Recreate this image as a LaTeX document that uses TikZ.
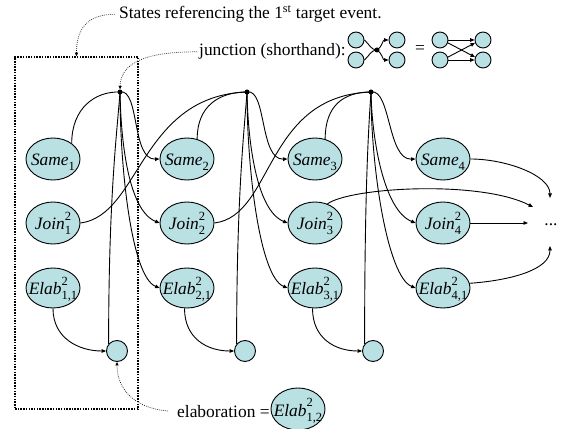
\documentclass[tikz,border=0pt]{standalone}
\usepackage{fontspec}
\setmainfont{Liberation Serif}
\usetikzlibrary{arrows.meta,shapes.geometric}
\definecolor{cellfill}{RGB}{185,224,227}
% italic state name with stacked superscript and subscript
\newcommand\scr[1]{{\fontsize{12.5}{12.5}\selectfont #1}}
\newcommand\stlab[3]{\textit{#1}\rlap{\raisebox{9pt}{\scr{#2}}}\raisebox{-5pt}{\scr{#3}}}
% label set with its baseline a fixed distance below the node centre
\newcommand\inlab[1]{\raisebox{-7pt}[0pt][0pt]{\makebox[0pt]{#1}}}
\tikzset{
  big/.style={font=\fontsize{17.4}{20}\selectfont},
  stnode/.style={ellipse, draw, fill=cellfill, line width=0.9pt, minimum width=54pt, minimum height=42pt, inner sep=0pt, big},
  elnode/.style={stnode, minimum height=40pt},
  endcirc/.style={circle, draw, fill=cellfill, line width=0.9pt, minimum size=21pt, inner sep=0pt},
  mini/.style={circle, draw, fill=cellfill, line width=0.9pt, minimum size=16pt, inner sep=0pt},
  jdot/.style={circle, fill=black, minimum size=5pt, inner sep=0pt},
  conn/.style={line width=0.9pt},
  arw/.style={conn, -{Triangle[length=4.5pt,width=3.6pt]}},
  note/.style={line width=0.7pt, dash pattern=on 0.7pt off 1.3pt, -{Triangle[length=3.5pt,width=3pt]}},
  grpframe/.style={draw, line width=1.5pt, dash pattern=on 1.5pt off 1.2pt, minimum width=123pt, minimum height=352pt, inner sep=0pt},
  lbltxt/.style={big, inner sep=0pt},
}
\begin{document}
\begin{tikzpicture}[x=1pt,y=1pt]
\useasboundingbox (0,0) rectangle (567,428);

% states of the four columns
\node[stnode] (s1) at (53,269) {\inlab{\stlab{Same}{}{1}}};
\node[stnode] (s2) at (187,269) {\inlab{\stlab{Same}{}{2}}};
\node[stnode] (s3) at (315,269) {\inlab{\stlab{Same}{}{3}}};
\node[stnode] (s4) at (443,269) {\inlab{\stlab{Same}{}{4}}};
\node[stnode] (n1) at (53,205) {\inlab{\stlab{Join}{2}{1}}};
\node[stnode] (n2) at (187,205) {\inlab{\stlab{Join}{2}{2}}};
\node[stnode] (n3) at (315,205) {\inlab{\stlab{Join}{2}{3}}};
\node[stnode] (n4) at (443,205) {\inlab{\stlab{Join}{2}{4}}};
\node[elnode] (e1) at (53,140) {\inlab{\stlab{Elab}{2}{1,1}}};
\node[elnode] (e2) at (187,140) {\inlab{\stlab{Elab}{2}{2,1}}};
\node[elnode] (e3) at (315,140) {\inlab{\stlab{Elab}{2}{3,1}}};
\node[elnode] (e4) at (443,140) {\inlab{\stlab{Elab}{2}{4,1}}};

% elaboration states and junctions
\node[endcirc] (c1) at (117,77) {};
\node[endcirc] (c2) at (245,77) {};
\node[endcirc] (c3) at (373,77) {};
\node[jdot] (j1) at (120,336) {};
\node[jdot] (j2) at (247,336) {};
\node[jdot] (j3) at (371,336) {};

% continuation
\node[lbltxt, anchor=base] (dots) at (551,202) {...};
\coordinate (d1) at (550,230);
\coordinate (d2) at (533,221);
\coordinate (d3) at (528,205);
\coordinate (d4) at (550,182);

% group of the first column
\node[grpframe] (grp) at (76.5,195) {};

% junction fan-out to the next column and to the elaboration state
\foreach \a/\b in {1/2,2/3,3/4}{
  \draw[arw] (j\a.center) to[out=11,in=182,out distance=20pt,in distance=28pt] (s\b.west);
  \draw[arw] (j\a.center) to[out=-89,in=158,out distance=48pt,in distance=34pt] (n\b.west);
  \draw[arw] (j\a.center) to[out=-90,in=158,out distance=78pt,in distance=30pt] (e\b.west);
  \draw[conn] (j\a.center) to[out=-94,in=90,out distance=38pt,in distance=150pt] (c\a.140);
}
\draw[arw] (e1.south) to[out=-90,in=180,out distance=30pt,in distance=27pt] (c1.west);
\draw[arw] (e2.-97) to[out=-90,in=180,out distance=30pt,in distance=27pt] (c2.west);
\draw[arw] (e3.-97) to[out=-90,in=180,out distance=30pt,in distance=27pt] (c3.west);

% inputs of the junctions
\draw[conn] (s1.40) to[out=90,in=178,out distance=35pt,in distance=25pt] (j1.center);
\draw[conn] (s2.63) to[out=90,in=180,out distance=33pt,in distance=28pt] (j2.center);
\draw[conn] (s3.63) to[out=90,in=180,out distance=33pt,in distance=28pt] (j3.center);
\draw[conn] (n1.east) to[out=7,in=182,out distance=60pt,in distance=107pt] (j2.center);
\draw[conn] (n2.east) to[out=7,in=182,out distance=60pt,in distance=107pt] (j3.center);

% last column into the continuation
\draw[arw] (n3.57) to[out=36,in=153,out distance=28pt,in distance=60pt] (d2);
\draw[arw] (s4.east) to[out=0,in=90,out distance=35pt,in distance=23pt] (d1);
\draw[arw] (n4.east) -- (d3);
\draw[arw] (e4.10) to[out=4,in=-90,out distance=40pt,in distance=24pt] (d4);

% annotations
\node[lbltxt, anchor=base west] (ttl) at (119,409) {States referencing the 1\textsuperscript{st} target event.};
\node[lbltxt, anchor=base west] (jtx) at (199,372) {junction (shorthand):};
\node[lbltxt, anchor=base west] (etx) at (177,11) {elaboration =};
\node[stnode] (e12) at (298,19) {\inlab{\stlab{Elab}{2}{1,2}}};

\draw[note] ([xshift=-4pt]ttl.west) to[out=180,in=90,out distance=30pt,in distance=25pt] (grp.north);
\draw[note] ([xshift=-2pt]jtx.west) to[out=180,in=88,out distance=57pt,in distance=24pt] (j1.north);
\draw[note] ([xshift=-9pt]etx.west) to[out=175,in=-90,out distance=33pt,in distance=28pt] (c1.south);

% shorthand legend
\node[mini] (la) at (356,388) {};
\node[mini] (lb) at (356,368) {};
\node[jdot] (ld) at (377,378) {};
\node[mini] (ra) at (397,388) {};
\node[mini] (rb) at (397,368) {};
\node[lbltxt] (eq) at (420,378) {=};
\node[mini] (pa) at (440,388) {};
\node[mini] (pb) at (440,368) {};
\node[mini] (qa) at (483,388) {};
\node[mini] (qb) at (483,368) {};
\draw[conn] (la.east) to[out=-40,in=180] (ld.center);
\draw[conn] (lb.east) to[out=40,in=180] (ld.center);
\draw[arw] (ld.center) to[out=30,in=180] (ra.west);
\draw[arw] (ld.center) to[out=-30,in=180] (rb.west);
\draw[arw] (pa.east) -- (qa.west);
\draw[arw] (pb.east) -- (qb.west);
\draw[arw] (pa.-20) -- (qb.160);
\draw[arw] (pb.20) -- (qa.200);
\end{tikzpicture}
\end{document}
